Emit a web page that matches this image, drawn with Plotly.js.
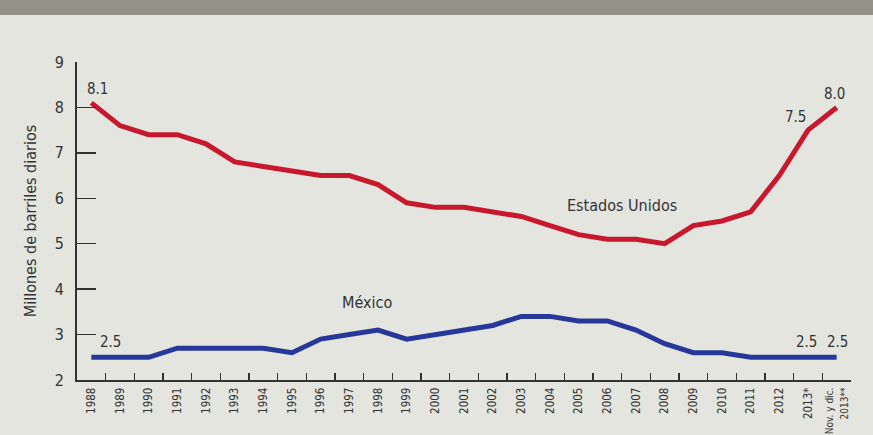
<!DOCTYPE html>
<html><head><meta charset="utf-8">
<script src="https://cdn.plot.ly/plotly-3.0.1.min.js"></script>
<style>html,body{margin:0;padding:0;background:#e4e5df;}</style>
</head><body>
<div id="chart" style="width:873px;height:435px;"></div>
<script>
const categories = ["1988","1989","1990","1991","1992","1993","1994","1995","1996","1997","1998","1999","2000","2001","2002","2003","2004","2005","2006","2007","2008","2009","2010","2011","2012","2013*","<span style='font-size:10px'>Nov. y dic.<br>2013**</span>"];
const estadosUnidos = [8.1,7.6,7.4,7.4,7.2,6.8,6.7,6.6,6.5,6.5,6.3,5.9,5.8,5.8,5.7,5.6,5.4,5.2,5.1,5.1,5.0,5.4,5.5,5.7,6.5,7.5,8.0];
const mexico = [2.5,2.5,2.5,2.7,2.7,2.7,2.7,2.6,2.9,3.0,3.1,2.9,3.0,3.1,3.2,3.4,3.4,3.3,3.3,3.1,2.8,2.6,2.6,2.5,2.5,2.5,2.5];
const yTicks = [2,3,4,5,6,7,8,9];

const FONT = "'Liberation Sans Narrow','DejaVu Sans Condensed','Roboto Condensed',Arial,sans-serif";
const TXT = "#333333";

const traces = [
  {x: categories, y: estadosUnidos, type: "scatter", mode: "lines", line: {color: "#c8182d", width: 5}, hoverinfo: "skip"},
  {x: categories, y: mexico, type: "scatter", mode: "lines", line: {color: "#27389a", width: 5}, hoverinfo: "skip"}
];

const n = categories.length;
const ann = (i, v, xs, ys) => ({x: i, y: v, text: v.toFixed(1), showarrow: false, xshift: xs, yshift: ys, font: {family: FONT, size: 15, color: TXT}});

const annotations = [
  ann(0, estadosUnidos[0], 6, 14),
  ann(0, mexico[0], 19, 15),
  ann(n-2, estadosUnidos[n-2], -13, 13),
  ann(n-1, estadosUnidos[n-1], -2, 13),
  ann(n-2, mexico[n-2], -2, 15),
  ann(n-1, mexico[n-1], 1, 15),
  {x: 18.5, y: 5.85, text: "Estados Unidos", showarrow: false, font: {family: FONT, size: 16, color: TXT}},
  {x: 9.6, y: 3.7, text: "México", showarrow: false, font: {family: FONT, size: 16, color: TXT}}
];

const layout = {
  width: 873, height: 435,
  margin: {l: 77, r: 22, t: 62, b: 55},
  paper_bgcolor: "#e4e5df", plot_bgcolor: "#e4e5df",
  showlegend: false,
  font: {family: FONT, color: TXT},
  xaxis: {
    type: "category", categoryorder: "array", categoryarray: categories,
    range: [-0.5, n - 0.5],
    showgrid: false, zeroline: false,
    showline: true, linecolor: "#333", linewidth: 2,
    ticks: "inside", tickson: "boundaries", ticklen: 7, tickwidth: 1.5, tickcolor: "#333",
    tickangle: -90, tickfont: {family: FONT, size: 11.5, color: TXT},
    ticklabelstandoff: 1
  },
  yaxis: {
    range: [2, 9], tickvals: yTicks,
    showgrid: false, zeroline: false,
    showline: true, linecolor: "#333", linewidth: 2,
    ticks: "inside", ticklen: 19, tickwidth: 1.5, tickcolor: "#333",
    tickfont: {family: FONT, size: 16, color: TXT},
    ticklabelstandoff: 8,
    title: {text: "Millones de barriles diarios", font: {family: FONT, size: 16, color: TXT}, standoff: 14}
  },
  shapes: [
    {type: "rect", xref: "paper", yref: "paper", x0: -0.2, x1: 1.1, y0: 1.148, y1: 1.25, fillcolor: "#94938a", line: {width: 0}, layer: "below"}
  ],
  annotations: annotations
};

Plotly.newPlot("chart", traces, layout, {displayModeBar: false, staticPlot: true});
</script>
</body></html>
